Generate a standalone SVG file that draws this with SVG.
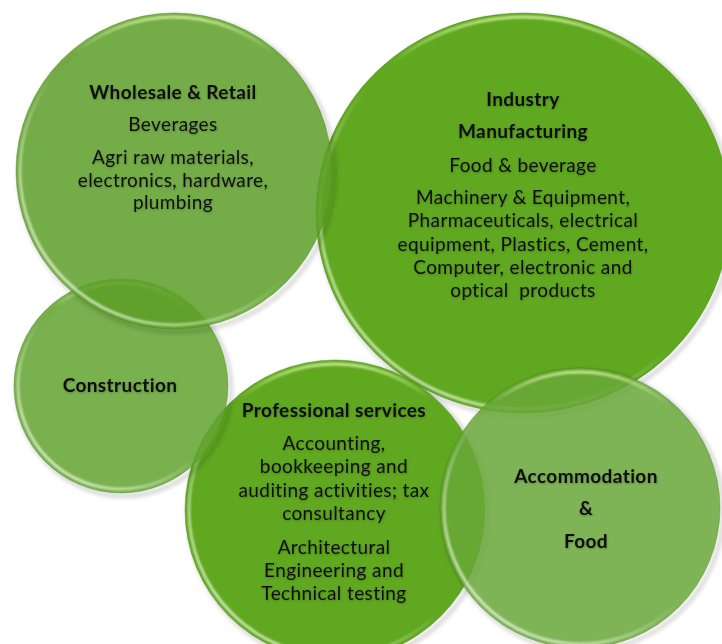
<svg xmlns="http://www.w3.org/2000/svg" width="722" height="644" viewBox="0 0 722 644">
  <defs>
    <style>
      .t { font-family: "Lato", "Liberation Sans", sans-serif; font-size: 19px; letter-spacing: 0.4px; fill: #111; text-anchor: middle; }
      .b { font-weight: bold; }
      .solid { fill: #60a820; }
      .ws { fill: #5c9f27; fill-opacity: 0.85; }
      .co { fill: #62a32f; fill-opacity: 0.85; }
      .ac { fill: #69a738; fill-opacity: 0.85; }
      .edge { fill: none; stroke: #3f7a12; stroke-opacity: 0.35; stroke-width: 1; }
      .shadow { fill: none; stroke: #000; stroke-opacity: 0.22; stroke-width: 3; filter: url(#blur2); }
      .rim { fill: none; stroke: url(#rimg); stroke-width: 2.5; filter: url(#blur1); }
      .top { fill: none; stroke: url(#topg); stroke-width: 3; filter: url(#blur1); }
    </style>
    <filter id="blur1" x="-10%" y="-10%" width="120%" height="120%">
      <feGaussianBlur stdDeviation="0.8"/>
    </filter>
    <filter id="blur2" x="-10%" y="-10%" width="120%" height="120%">
      <feGaussianBlur stdDeviation="2"/>
    </filter>
    <filter id="tshadow" x="-10%" y="-30%" width="120%" height="160%">
      <feDropShadow dx="0.5" dy="1" stdDeviation="1" flood-color="#000" flood-opacity="0.25"/>
    </filter>
    <linearGradient id="rimg" x1="0.05" y1="0.95" x2="0.65" y2="0.3">
      <stop offset="0" stop-color="#fff" stop-opacity="0.95"/>
      <stop offset="0.35" stop-color="#f4ffe0" stop-opacity="0.6"/>
      <stop offset="0.7" stop-color="#fff" stop-opacity="0"/>
    </linearGradient>
    <linearGradient id="topg" x1="0" y1="0" x2="0" y2="1">
      <stop offset="0" stop-color="#e8ffb0" stop-opacity="0.75"/>
      <stop offset="0.12" stop-color="#e8ffb0" stop-opacity="0"/>
    </linearGradient>
  </defs>

  <g id="industry">
    <ellipse class="shadow" cx="526" cy="216" rx="207" ry="200"/>
    <ellipse class="solid" cx="523" cy="213" rx="207" ry="200"/>
    <ellipse class="edge" cx="523" cy="213" rx="207" ry="200"/>
    <ellipse class="rim" cx="523" cy="213" rx="203" ry="196"/>
    <ellipse class="top" cx="523" cy="213" rx="203" ry="196"/>
    <g filter="url(#tshadow)">
      <text class="t b" x="523" y="106">Industry</text>
      <text class="t b" x="523" y="138">Manufacturing</text>
      <text class="t" x="523" y="172">Food &amp; beverage</text>
      <text class="t" x="523" y="204">Machinery &amp; Equipment,</text>
      <text class="t" x="523" y="227">Pharmaceuticals, electrical</text>
      <text class="t" x="523" y="251">equipment, Plastics, Cement,</text>
      <text class="t" x="523" y="274">Computer, electronic and</text>
      <text class="t" x="523" y="297" xml:space="preserve">optical  products</text>
    </g>
  </g>

  <g id="professional">
    <circle class="shadow" cx="338" cy="513" r="150"/>
    <circle class="solid" cx="335" cy="510" r="150"/>
    <circle class="edge" cx="335" cy="510" r="150"/>
    <circle class="rim" cx="335" cy="510" r="146"/>
    <circle class="top" cx="335" cy="510" r="146"/>
    <g filter="url(#tshadow)">
      <text class="t b" x="334" y="417">Professional services</text>
      <text class="t" x="334" y="450">Accounting,</text>
      <text class="t" x="334" y="473">bookkeeping and</text>
      <text class="t" x="334" y="497">auditing activities; tax</text>
      <text class="t" x="334" y="520">consultancy</text>
      <text class="t" x="334" y="554">Architectural</text>
      <text class="t" x="334" y="577">Engineering and</text>
      <text class="t" x="334" y="600">Technical testing</text>
    </g>
  </g>

  <g id="construction">
    <circle class="shadow" cx="124" cy="389" r="107"/>
    <circle class="co" cx="121" cy="386" r="107"/>
    <circle class="edge" cx="121" cy="386" r="107"/>
    <circle class="rim" cx="121" cy="386" r="103"/>
    <circle class="top" cx="121" cy="386" r="103"/>
    <g filter="url(#tshadow)">
      <text class="t b" x="120" y="392">Construction</text>
    </g>
  </g>

  <g id="wholesale">
    <circle class="shadow" cx="177" cy="174" r="158"/>
    <circle class="ws" cx="174" cy="171" r="158"/>
    <circle class="edge" cx="174" cy="171" r="158"/>
    <circle class="rim" cx="174" cy="171" r="154"/>
    <circle class="top" cx="174" cy="171" r="154"/>
    <g filter="url(#tshadow)">
      <text class="t b" x="173" y="99">Wholesale &amp; Retail</text>
      <text class="t" x="173" y="131">Beverages</text>
      <text class="t" x="173" y="164">Agri raw materials,</text>
      <text class="t" x="173" y="187">electronics, hardware,</text>
      <text class="t" x="173" y="209">plumbing</text>
    </g>
  </g>

  <g id="accommodation">
    <circle class="shadow" cx="583" cy="511" r="140"/>
    <circle class="ac" cx="580" cy="508" r="140"/>
    <circle class="edge" cx="580" cy="508" r="140"/>
    <circle class="rim" cx="580" cy="508" r="136"/>
    <circle class="top" cx="580" cy="508" r="136"/>
    <g filter="url(#tshadow)">
      <text class="t b" x="586" y="483">Accommodation</text>
      <text class="t b" x="586" y="515">&amp;</text>
      <text class="t b" x="586" y="548">Food</text>
    </g>
  </g>

  <g id="connectors"/>
</svg>
